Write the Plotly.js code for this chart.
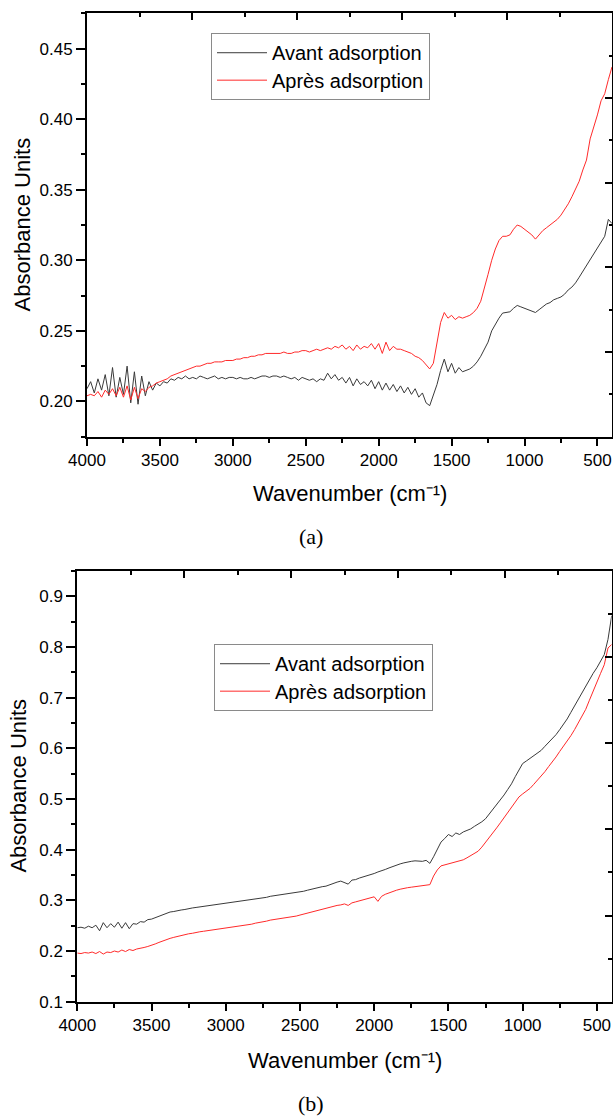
<!DOCTYPE html>
<html>
<head>
<meta charset="utf-8">
<script src="https://cdn.plot.ly/plotly-3.0.1.min.js"></script>
<style>
html,body{margin:0;padding:0;background:#fff;}
#chart{width:613px;height:1116px;}
</style>
</head>
<body>
<div id="chart"></div>
<script>
// Shared wavenumber axis (cm-1)
var wavenumbers = [
4000,3975,3950,3925,3900,3875,3850,3825,3800,3775,
3750,3725,3700,3675,3650,3625,3600,3575,3550,3525,
3500,3475,3450,3425,3400,3375,3350,3325,3300,3275,
3250,3225,3200,3175,3150,3125,3100,3075,3050,3025,
3000,2975,2950,2925,2900,2875,2850,2825,2800,2775,
2750,2725,2700,2675,2650,2625,2600,2575,2550,2525,
2500,2475,2450,2425,2400,2375,2350,2325,2300,2275,
2250,2225,2200,2175,2150,2125,2100,2075,2050,2025,
2000,1975,1950,1925,1900,1875,1850,1825,1800,1775,
1750,1725,1700,1675,1650,1625,1600,1575,1550,1525,
1500,1475,1450,1425,1400,1375,1350,1325,1300,1275,
1250,1225,1200,1175,1150,1125,1100,1075,1050,1025,
1000,975,950,925,900,875,850,825,800,775,
750,725,700,675,650,625,600,575,550,525,
500,475,450,425,400];

// Panel (a)
var avantA = [
0.209,0.214,0.206,0.216,0.208,0.219,0.204,0.224,0.203,0.217,
0.205,0.225,0.199,0.221,0.198,0.218,0.204,0.214,0.208,0.213,
0.211,0.214,0.213,0.216,0.215,0.217,0.216,0.218,0.216,0.217,
0.216,0.218,0.217,0.216,0.217,0.218,0.216,0.217,0.216,0.217,
0.217,0.216,0.217,0.216,0.216,0.217,0.216,0.217,0.218,0.218,
0.217,0.218,0.218,0.217,0.218,0.217,0.216,0.217,0.215,0.217,
0.216,0.215,0.216,0.214,0.216,0.215,0.220,0.216,0.219,0.215,
0.217,0.213,0.217,0.211,0.216,0.212,0.214,0.211,0.215,0.209,
0.214,0.208,0.213,0.208,0.212,0.207,0.211,0.206,0.210,0.205,
0.209,0.203,0.206,0.199,0.197,0.204,0.212,0.222,0.230,0.221,
0.227,0.220,0.224,0.221,0.222,0.223,0.225,0.228,0.232,0.237,
0.242,0.250,0.255,0.259,0.2626,0.263,0.2635,0.266,0.268,0.267,
0.266,0.265,0.264,0.263,0.265,0.267,0.269,0.270,0.272,0.273,
0.274,0.276,0.279,0.281,0.284,0.288,0.292,0.297,0.301,0.305,
0.309,0.313,0.317,0.329,0.326];

var apresA = [
0.204,0.205,0.204,0.207,0.203,0.208,0.205,0.209,0.204,0.210,
0.203,0.211,0.201,0.210,0.202,0.209,0.207,0.210,0.211,0.213,
0.214,0.215,0.216,0.218,0.219,0.220,0.221,0.222,0.223,0.224,
0.225,0.225,0.226,0.227,0.227,0.228,0.228,0.228,0.229,0.229,
0.229,0.230,0.230,0.231,0.231,0.232,0.232,0.233,0.233,0.234,
0.234,0.234,0.234,0.234,0.235,0.234,0.234,0.235,0.235,0.236,
0.236,0.235,0.236,0.237,0.236,0.237,0.238,0.237,0.239,0.238,
0.240,0.237,0.239,0.236,0.240,0.237,0.239,0.238,0.241,0.237,
0.241,0.234,0.242,0.236,0.239,0.237,0.237,0.236,0.235,0.234,
0.232,0.231,0.229,0.226,0.223,0.227,0.242,0.256,0.263,0.259,
0.261,0.258,0.260,0.259,0.260,0.261,0.263,0.266,0.271,0.280,
0.290,0.300,0.308,0.314,0.317,0.317,0.318,0.322,0.325,0.324,
0.322,0.320,0.318,0.315,0.318,0.321,0.323,0.325,0.327,0.329,
0.332,0.336,0.340,0.345,0.350,0.356,0.364,0.371,0.386,0.394,
0.403,0.413,0.418,0.428,0.437];

// Panel (b)
var avantB = [
0.246,0.247,0.245,0.249,0.246,0.251,0.240,0.256,0.246,0.254,
0.247,0.257,0.245,0.256,0.244,0.254,0.253,0.258,0.257,0.262,
0.263,0.266,0.269,0.272,0.275,0.277,0.278,0.280,0.281,0.282,
0.284,0.285,0.286,0.287,0.288,0.289,0.290,0.291,0.292,0.293,
0.294,0.295,0.296,0.297,0.298,0.299,0.300,0.301,0.302,0.303,
0.305,0.306,0.308,0.309,0.310,0.311,0.312,0.313,0.314,0.315,
0.317,0.318,0.320,0.322,0.323,0.325,0.327,0.328,0.331,0.333,
0.336,0.338,0.335,0.332,0.340,0.341,0.344,0.346,0.348,0.351,
0.353,0.356,0.358,0.361,0.364,0.367,0.369,0.372,0.374,0.376,
0.377,0.378,0.378,0.377,0.379,0.373,0.386,0.402,0.415,0.422,
0.430,0.426,0.433,0.430,0.435,0.438,0.441,0.446,0.450,0.455,
0.461,0.470,0.480,0.489,0.498,0.508,0.519,0.530,0.544,0.558,
0.570,0.575,0.580,0.585,0.590,0.596,0.604,0.611,0.619,0.627,
0.637,0.647,0.658,0.671,0.684,0.697,0.710,0.724,0.737,0.748,
0.759,0.771,0.785,0.815,0.862];

var apresB = [
0.196,0.195,0.197,0.196,0.198,0.195,0.199,0.194,0.198,0.197,
0.200,0.198,0.202,0.199,0.203,0.201,0.204,0.205,0.207,0.209,
0.211,0.214,0.217,0.220,0.223,0.225,0.227,0.229,0.231,0.232,
0.234,0.235,0.237,0.238,0.239,0.240,0.241,0.242,0.243,0.244,
0.245,0.246,0.247,0.248,0.250,0.251,0.252,0.253,0.255,0.256,
0.258,0.259,0.261,0.262,0.263,0.264,0.265,0.266,0.268,0.269,
0.271,0.273,0.275,0.277,0.279,0.281,0.283,0.285,0.287,0.288,
0.290,0.291,0.293,0.290,0.295,0.297,0.299,0.301,0.303,0.306,
0.307,0.298,0.308,0.312,0.315,0.318,0.320,0.322,0.324,0.325,
0.326,0.327,0.328,0.328,0.329,0.331,0.348,0.360,0.368,0.370,
0.372,0.374,0.376,0.378,0.380,0.384,0.388,0.392,0.397,0.405,
0.414,0.424,0.434,0.443,0.453,0.463,0.473,0.483,0.494,0.504,
0.510,0.515,0.521,0.529,0.537,0.545,0.554,0.564,0.573,0.583,
0.594,0.604,0.614,0.625,0.637,0.650,0.663,0.677,0.695,0.714,
0.730,0.748,0.765,0.798,0.805];

var seriesNames = ["Avant adsorption", "Après adsorption"];
var panelLabels = ["(a)", "(b)"];
var xTitle = "Wavenumber (cm\u207B\u00B9)";
var yTitle = "Absorbance Units";

var W = 613, H = 1116;
var FONT = "Liberation Sans, Arial, Helvetica, sans-serif";
var SERIF = "Liberation Serif, Times New Roman, serif";
var BLACK = "#3a3a3a", RED = "#ff2a2a";

function px(x){ return x / W; }
function py(y){ return 1 - y / H; }
// legend entries drawn at 20px while the row pitch follows the legend font size
function legName(s){ return '<span style="font-size:20px">' + s + '</span>'; }

var traces = [
  {x: wavenumbers, y: avantA, type: "scatter", mode: "lines", name: legName(seriesNames[0]),
   line: {color: BLACK, width: 1}, xaxis: "x", yaxis: "y", legend: "legend"},
  {x: wavenumbers, y: apresA, type: "scatter", mode: "lines", name: legName(seriesNames[1]),
   line: {color: RED, width: 1}, xaxis: "x", yaxis: "y", legend: "legend"},
  {x: [null], y: [null], type: "scatter", mode: "lines", showlegend: false, hoverinfo: "skip",
   xaxis: "x2", yaxis: "y2"},
  {x: wavenumbers, y: avantB, type: "scatter", mode: "lines", name: legName(seriesNames[0]),
   line: {color: BLACK, width: 1}, xaxis: "x3", yaxis: "y3", legend: "legend2"},
  {x: wavenumbers, y: apresB, type: "scatter", mode: "lines", name: legName(seriesNames[1]),
   line: {color: RED, width: 1}, xaxis: "x3", yaxis: "y3", legend: "legend2"},
  {x: [null], y: [null], type: "scatter", mode: "lines", showlegend: false, hoverinfo: "skip",
   xaxis: "x4", yaxis: "y4"}
];

function mainX(domain, anchor){
  return {domain: domain, anchor: anchor, range: [4000, 400], autorange: false,
    tickmode: "linear", tick0: 0, dtick: 500,
    ticks: "outside", ticklen: 7, tickwidth: 2, tickcolor: "#000",
    minor: {dtick: 250, tick0: 0, ticks: "outside", ticklen: 4, tickwidth: 2, tickcolor: "#000"},
    showline: true, linewidth: 2, linecolor: "#000", mirror: true,
    showgrid: false, zeroline: false,
    tickfont: {family: FONT, size: 17, color: "#000"}};
}
function mainY(domain, anchor, range, dtick, fmt){
  return {domain: domain, anchor: anchor, range: range, autorange: false,
    tickmode: "linear", tick0: 0, dtick: dtick, tickformat: fmt,
    ticks: "outside", ticklen: 9, tickwidth: 2, tickcolor: "#000",
    minor: {dtick: dtick / 2, tick0: 0, ticks: "outside", ticklen: 4.5, tickwidth: 2, tickcolor: "#000"},
    showline: true, linewidth: 2, linecolor: "#000", mirror: true,
    showgrid: false, zeroline: false,
    tickfont: {family: FONT, size: 17, color: "#000"}};
}
function topX(over, anchor){
  return {overlaying: over, anchor: anchor, side: "top", range: [0, 10], autorange: false,
    tickmode: "array", tickvals: [0, 2, 4, 6, 8, 10], showticklabels: false,
    ticks: "inside", ticklen: 7, tickwidth: 2, tickcolor: "#000",
    minor: {tickmode: "array", tickvals: [1, 3, 5, 7, 9], ticks: "inside", ticklen: 3.5, tickwidth: 2, tickcolor: "#000"},
    showline: false, showgrid: false, zeroline: false};
}
function rightY(over, anchor){
  return {overlaying: over, anchor: anchor, side: "right", range: [0, 10], autorange: false,
    tickmode: "array", tickvals: [0, 2, 4, 6, 8, 10], showticklabels: false,
    ticks: "inside", ticklen: 7, tickwidth: 2, tickcolor: "#000",
    minor: {tickmode: "array", tickvals: [1, 3, 5, 7, 9], ticks: "inside", ticklen: 3.5, tickwidth: 2, tickcolor: "#000"},
    showline: false, showgrid: false, zeroline: false};
}

var domXa = [px(87), px(612)], domYa = [py(436.7), py(13.3)];
var domXb = [px(77.3), px(611.7)], domYb = [py(1001.7), py(571)];

function legendAt(x, y){
  return {x: px(x), y: py(y), xanchor: "left", yanchor: "top",
    bgcolor: "#fff", bordercolor: "#8a8a8a", borderwidth: 1,
    font: {family: FONT, size: 18.8, color: "#000"}, itemwidth: 50, tracegroupgap: 0};
}

function ann(text, x, y, size, opts){
  var a = {text: text, x: px(x), y: py(y), xref: "paper", yref: "paper",
    xanchor: "center", yanchor: "middle", showarrow: false,
    font: {family: FONT, size: size, color: "#000"}};
  if (opts) for (var k in opts) a[k] = opts[k];
  return a;
}

var layout = {
  width: W, height: H,
  margin: {l: 0, r: 0, t: 0, b: 0},
  paper_bgcolor: "#fff", plot_bgcolor: "rgba(0,0,0,0)",
  showlegend: true,
  xaxis: mainX(domXa, "y"),
  yaxis: mainY(domYa, "x", [0.175, 0.475], 0.05, ".2f"),
  xaxis2: topX("x", "y"),
  yaxis2: rightY("y", "x"),
  xaxis3: mainX(domXb, "y3"),
  yaxis3: mainY(domYb, "x3", [0.1, 0.95], 0.1, ".1f"),
  xaxis4: topX("x3", "y3"),
  yaxis4: rightY("y3", "x3"),
  legend: legendAt(211, 33),
  legend2: legendAt(214, 644),
  annotations: [
    ann(yTitle, 21.5, 225, 22, {textangle: -90}),
    ann(xTitle, 349.5, 493, 22),
    ann(panelLabels[0], 310.5, 536.7, 22, {font: {family: SERIF, size: 22, color: "#000"}}),
    ann(yTitle, 17.6, 786, 22, {textangle: -90}),
    ann(xTitle, 344.5, 1060, 22),
    ann(panelLabels[1], 310.5, 1103, 22, {font: {family: SERIF, size: 22, color: "#000"}})
  ]
};

Plotly.newPlot("chart", traces, layout, {displayModeBar: false, staticPlot: true});
</script>
</body>
</html>
